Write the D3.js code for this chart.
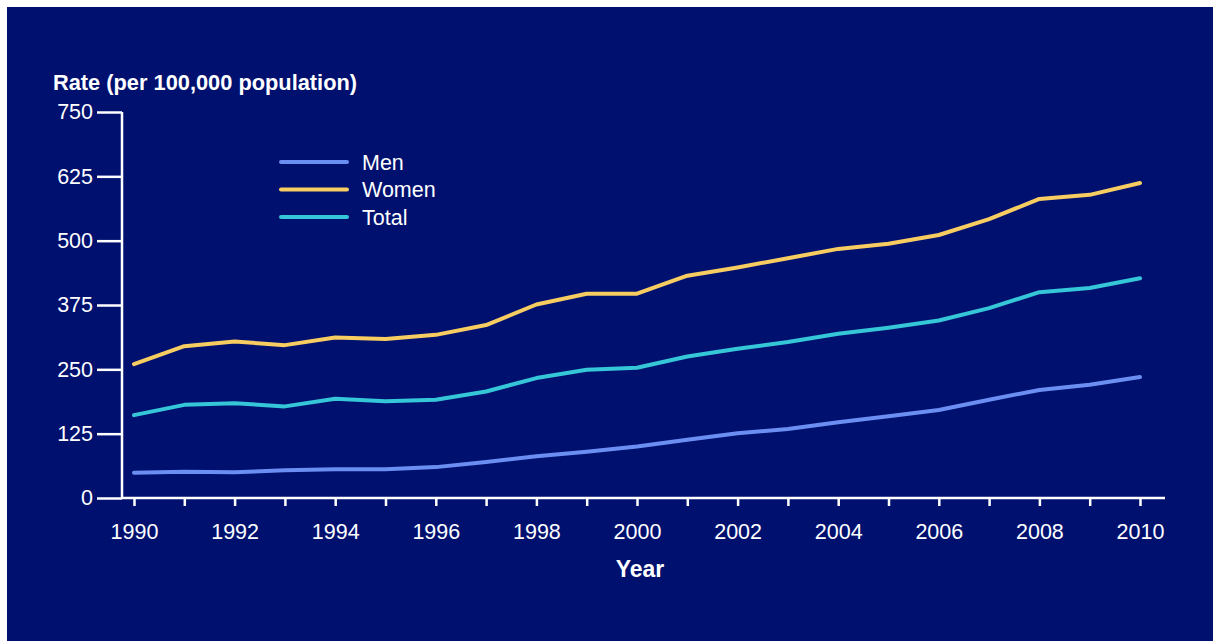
<!DOCTYPE html>
<html><head><meta charset="utf-8">
<script src="https://cdn.jsdelivr.net/npm/d3@7"></script>
<style>html,body{margin:0;padding:0;background:#fff;}svg{display:block;}</style>
</head><body>
<script>
const years = [1990,1991,1992,1993,1994,1995,1996,1997,1998,1999,2000,2001,2002,2003,2004,2005,2006,2007,2008,2009,2010];
const men   = [49,51,50,54,56,56,60,70,81,90,100,113,126,134,147,159,171,191,210,220,235];
const women = [260,295,304,297,312,309,317,336,376,397,397,432,448,466,484,494,511,542,581,589,612];
const total = [161,181,184,178,193,188,191,207,233,249,253,275,290,303,319,331,345,369,400,408,427];
const yTicks = [0,125,250,375,500,625,750];
const xTickYears = [1990,1992,1994,1996,1998,2000,2002,2004,2006,2008,2010];
const seriesNames = ["Men","Women","Total"];
const seriesColors = ["#6b8ef2","#f7cd62","#35c6d8"];

const W = 1213, H = 641;
const svg = d3.select("body").append("svg").attr("width",W).attr("height",H);
svg.append("rect").attr("x",7).attr("y",7).attr("width",W-7).attr("height",H-7).attr("fill","#00106f");

const x = d3.scaleLinear().domain([1990,2010]).range([134,1140]);
const y = d3.scaleLinear().domain([0,750]).range([498,112]);
const font = "'Liberation Sans', Arial, sans-serif";
const fs = "21.5px";

// y axis
const yAxis = svg.append("g").attr("transform","translate(122,0)")
  .call(d3.axisLeft(y).tickValues(yTicks).tickSize(25).tickPadding(4));
// x axis
const xAxis = svg.append("g").attr("transform","translate(0,498)")
  .call(d3.axisBottom(x).tickValues(years).tickSize(8).tickPadding(18)
    .tickFormat(d => xTickYears.includes(d) ? d : ""));
[yAxis,xAxis].forEach(g=>{
  g.select(".domain").remove();
  g.selectAll("line").attr("stroke","#fff").attr("stroke-width",2.5);
  g.selectAll("text").attr("fill","#fff").style("font-family",font).style("font-size",fs);
});
svg.append("line").attr("x1",122).attr("x2",122).attr("y1",y(750)).attr("y2",499).attr("stroke","#fff").attr("stroke-width",2.5);
svg.append("line").attr("x1",122).attr("x2",1165).attr("y1",498).attr("y2",498).attr("stroke","#fff").attr("stroke-width",2.5);

svg.append("text").attr("x",53).attr("y",90).text("Rate (per 100,000 population)")
  .attr("fill","#fff").style("font-family",font).style("font-size","21.8px").style("font-weight","bold");
svg.append("text").attr("x",640).attr("y",577).attr("text-anchor","middle").text("Year")
  .attr("fill","#fff").style("font-family",font).style("font-size","23px").style("font-weight","bold");

const line = d3.line().x((d,i)=>x(years[i])).y(d=>y(d));
[men,women,total].forEach((s,i)=>{
  svg.append("path").datum(s).attr("d",line).attr("fill","none")
    .attr("stroke",seriesColors[i]).attr("stroke-width",4).attr("stroke-linejoin","round").attr("stroke-linecap","round");
});

const leg = svg.append("g");
seriesNames.forEach((n,i)=>{
  const ly = 162 + i*27.5;
  leg.append("line").attr("x1",281).attr("x2",347).attr("y1",ly).attr("y2",ly)
    .attr("stroke",seriesColors[i]).attr("stroke-width",4).attr("stroke-linecap","round");
  leg.append("text").attr("x",362).attr("y",ly+7.5).text(n).attr("fill","#fff")
    .style("font-family",font).style("font-size",fs);
});
</script>
</body></html>
